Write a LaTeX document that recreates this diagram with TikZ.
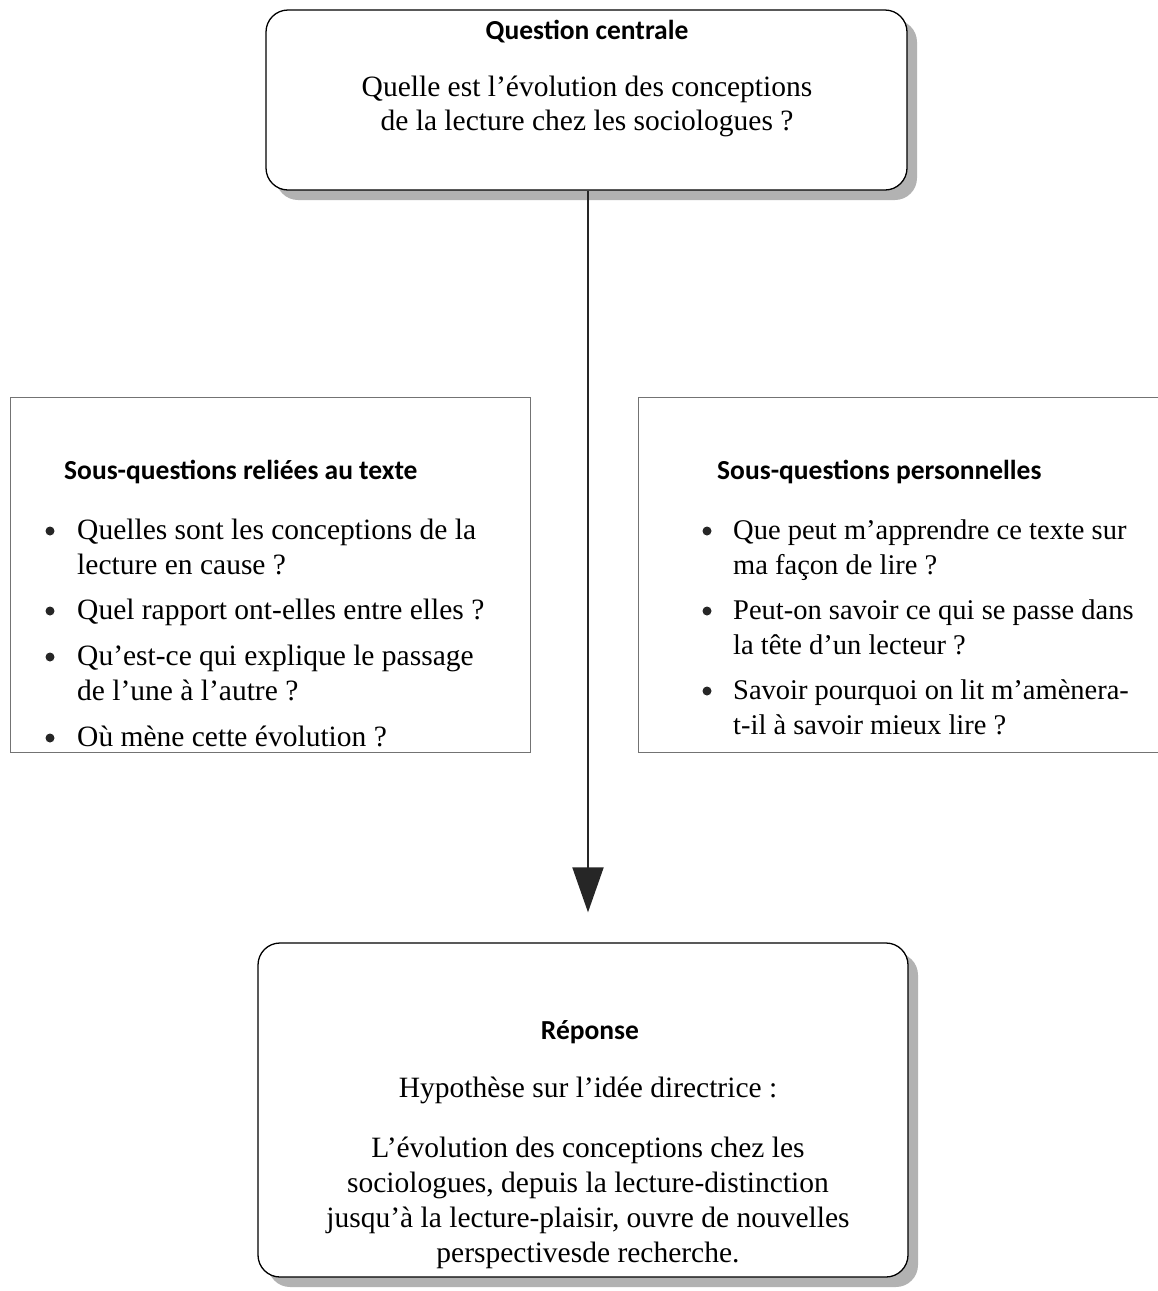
\documentclass[tikz,border=0pt]{standalone}
\usepackage{fontspec}
\setmainfont{Liberation Serif}
\newfontfamily\hdr{Carlito}
\usetikzlibrary{arrows.meta,shadows}
\begin{document}
\begin{tikzpicture}[x=1pt,y=-1pt,
 rbox/.style={draw=black, line width=1.3pt, rounded corners=22pt, fill=white,
   drop shadow={shadow xshift=10pt, shadow yshift=-10pt, opacity=1, fill=black!30}},
 sbox/.style={draw=black!55, line width=1pt},
 hd/.style={font=\hdr\bfseries\fontsize{27.5}{33}\selectfont, inner sep=0pt},
 bd/.style={font=\fontsize{29.5}{35}\selectfont, inner sep=0pt},
 bdr/.style={font=\fontsize{28.5}{35}\selectfont, inner sep=0pt},
 bul/.style={circle, fill=black!85, inner sep=0pt, minimum size=9pt},
 arr/.style={-{Triangle[width=31pt,length=45pt]}, line width=2pt, black!85},
]
\useasboundingbox (0,0) rectangle (1158,1291);

% boxes
\node[rbox, minimum width=641pt, minimum height=180pt] (q) at (586.5,100) {};
\node[sbox, minimum width=520pt, minimum height=355pt] (l) at (270,574.5) {};
\node[sbox, minimum width=522pt, minimum height=355pt] (p) at (899,574.5) {};
\node[rbox, minimum width=650pt, minimum height=334pt] (r) at (583,1110) {};

% connector
\draw[arr] ([xshift=1.5pt]q.south) -- ([xshift=5pt,yshift=30pt]r.north);

% top box text
\node[hd, anchor=mid] (qh) at (587,37) {Question centrale};
\node[bd, anchor=mid] (q1) at (587,94) {Quelle est l’évolution des conceptions};
\node[bd, anchor=mid] (q2) at (587,128) {de la lecture chez les sociologues ?};

% left box
\node[hd, anchor=mid west] (lh) at (64,477) {Sous-questions reliées au texte};
\node[bul] (lb1) at (50,531) {};
\node[bd, anchor=mid west] (l1a) at (77,537) {Quelles sont les conceptions de la};
\node[bd, anchor=mid west] (l1b) at (77,572) {lecture en cause ?};
\node[bul] (lb2) at (50,611) {};
\node[bd, anchor=mid west] (l2a) at (77,617) {Quel rapport ont-elles entre elles ?};
\node[bul] (lb3) at (50,657) {};
\node[bd, anchor=mid west] (l3a) at (77,663) {Qu’est-ce qui explique le passage};
\node[bd, anchor=mid west] (l3b) at (77,698) {de l’une à l’autre ?};
\node[bul] (lb4) at (50,738) {};
\node[bd, anchor=mid west] (l4a) at (77,744) {Où mène cette évolution ?};

% right box
\node[hd, anchor=mid west] (ph) at (717,477) {Sous-questions personnelles};
\node[bul] (pb1) at (707,531) {};
\node[bdr, anchor=mid west] (p1a) at (733,537) {Que peut m’apprendre ce texte sur};
\node[bdr, anchor=mid west] (p1b) at (733,572) {ma façon de lire ?};
\node[bul] (pb2) at (707,611) {};
\node[bdr, anchor=mid west] (p2a) at (733,617) {Peut-on savoir ce qui se passe dans};
\node[bdr, anchor=mid west] (p2b) at (733,652) {la tête d’un lecteur ?};
\node[bul] (pb3) at (707,691) {};
\node[bdr, anchor=mid west] (p3a) at (733,697) {Savoir pourquoi on lit m’amènera-};
\node[bdr, anchor=mid west] (p3b) at (733,732) {t-il à savoir mieux lire ?};

% bottom box
\node[hd, anchor=mid] (rh) at (590,1037) {Réponse};
\node[bd, anchor=mid] (r1) at (588,1095) {Hypothèse sur l’idée directrice :};
\node[bd, anchor=mid] (r2) at (588,1155) {L’évolution des conceptions chez les};
\node[bd, anchor=mid] (r3) at (588,1190) {sociologues, depuis la lecture-distinction};
\node[bd, anchor=mid] (r4) at (588,1225) {jusqu’à la lecture-plaisir, ouvre de nouvelles};
\node[bd, anchor=mid] (r5) at (588,1260) {perspectivesde recherche.};
\end{tikzpicture}
\end{document}
